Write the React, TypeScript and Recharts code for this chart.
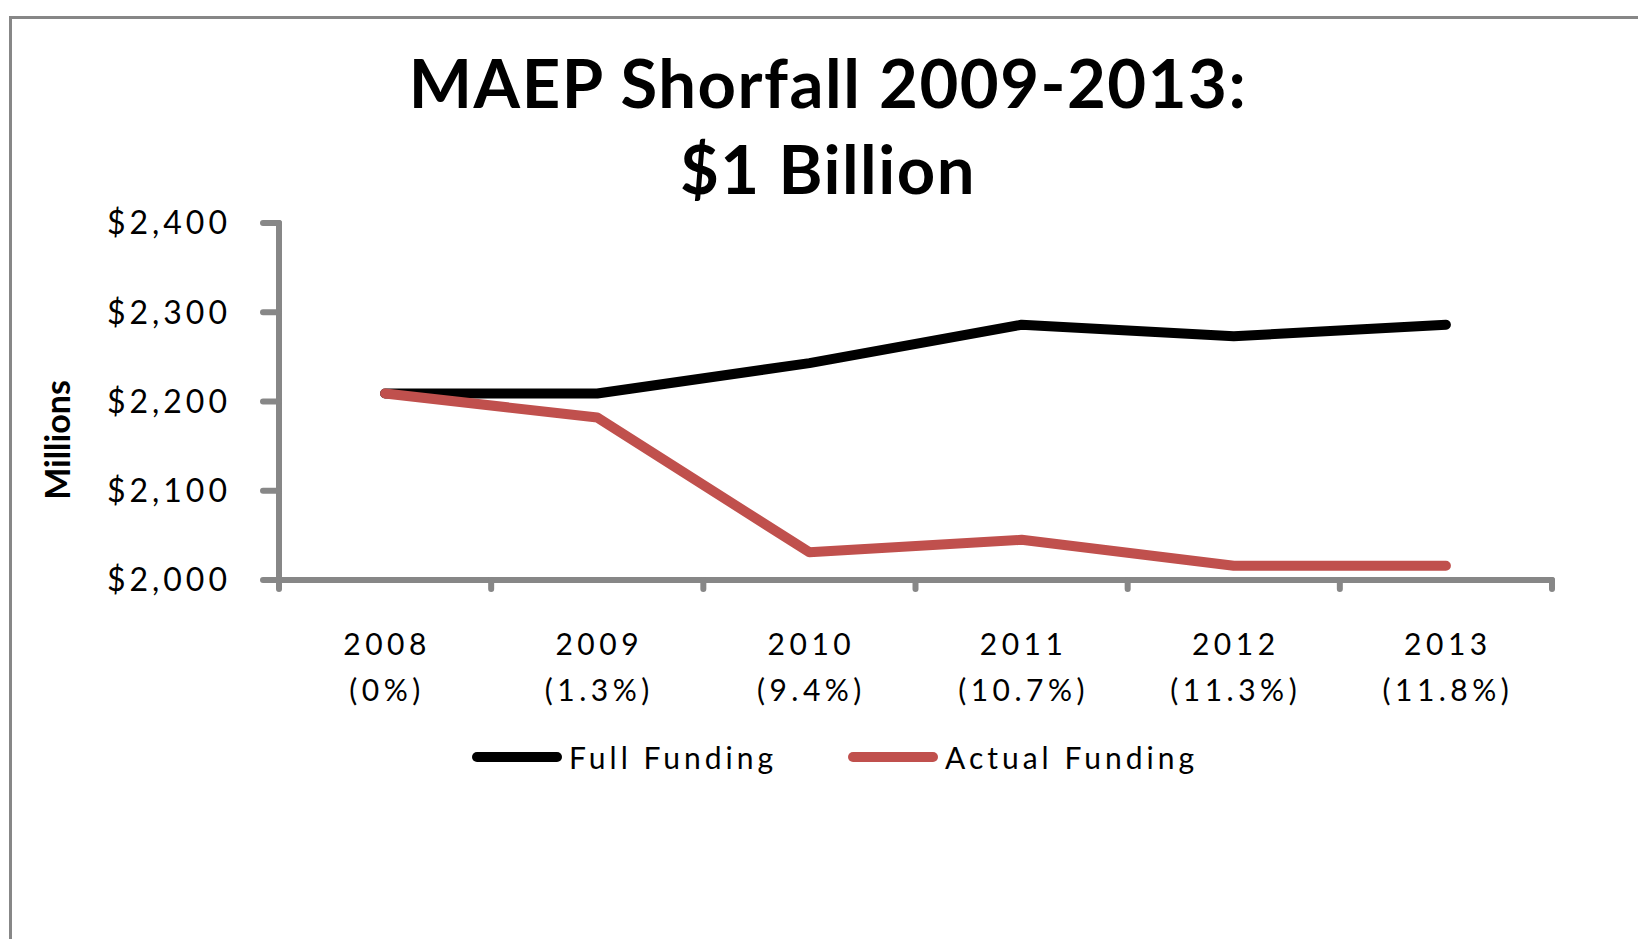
import React from 'react';
import { LineChart, Line, XAxis, YAxis } from 'recharts';

const years = ['2008', '2009', '2010', '2011', '2012', '2013'];
const shortfallPct = ['(0%)', '(1.3%)', '(9.4%)', '(10.7%)', '(11.3%)', '(11.8%)'];
const fullFunding = [2209, 2209, 2243, 2286, 2273, 2286];
const actualFunding = [2209, 2182, 2031, 2045, 2016, 2016];
const yTicks = [2000, 2100, 2200, 2300, 2400];

const data = years.map((year, i) => ({
  year,
  slot: i,
  pct: shortfallPct[i],
  full: fullFunding[i],
  actual: actualFunding[i],
}));
const edgeTicks = years.map((_, i) => i).concat(years.length);

const FONT = 'Lato, "Open Sans", sans-serif';
const GRAY = '#878787';
const RED = '#C0504D';

const CHART_W = 1638;
const MARGIN = { top: 223, right: 86, bottom: 209, left: 0 };
const Y_AXIS_W = 279;
const HALF_BAND = (CHART_W - MARGIN.right - MARGIN.left - Y_AXIS_W) / years.length / 2;

// labels sit between the boundary ticks of the frame axis
const EdgeTick = (props: any) => {
  const { x, y, payload } = props;
  const i = Math.round(payload.value);
  if (i < 0 || i >= years.length) return <g />;
  const cx = x + HALF_BAND + 2;
  return (
    <g>
      <text textAnchor="middle" fontFamily={FONT} fontSize={30} letterSpacing={4.5} fill="#000">
        <tspan x={cx} y={y + 66}>{years[i]}</tspan>
        <tspan x={cx} y={y + 112}>{shortfallPct[i]}</tspan>
      </text>
    </g>
  );
};

const YLabel = () => (
  <text
    x={56}
    y={440}
    transform="rotate(-90 56 440)"
    textAnchor="middle"
    dominantBaseline="central"
    fontFamily={FONT}
    fontWeight={700}
    fontSize={34}
    fill="#000"
  >
    Millions
  </text>
);

const LegendItem = ({ color, label, left }: { color: string; label: string; left: number }) => (
  <div style={{ position: 'absolute', left, top: 737, height: 40, display: 'flex', alignItems: 'center' }}>
    <svg width={90} height={12} style={{ marginRight: 7 }}>
      <line x1={5} y1={6} x2={85} y2={6} stroke={color} strokeWidth={10} strokeLinecap="round" />
    </svg>
    <span style={{ fontFamily: FONT, fontSize: 30, letterSpacing: 4, color: '#000' }}>{label}</span>
  </div>
);

const axisCss = `
.recharts-cartesian-axis-line, .recharts-cartesian-axis-tick-line {
  stroke: ${GRAY} !important;
  stroke-width: 6px !important;
  stroke-linecap: round;
}
`;

export default function App() {
  return (
    <div
      style={{
        position: 'absolute',
        left: 0,
        top: 0,
        width: 1638,
        height: 939,
        overflow: 'hidden',
        background: '#fff',
      }}
    >
      <style>{axisCss}</style>
      <div
        style={{
          position: 'absolute',
          left: 9,
          top: 16,
          width: 2000,
          height: 2000,
          borderLeft: `3px solid ${GRAY}`,
          borderTop: `3px solid ${GRAY}`,
        }}
      />
      <div
        style={{
          position: 'absolute',
          left: 0,
          top: 39,
          width: 1656,
          textAlign: 'center',
          fontFamily: FONT,
          fontWeight: 700,
          fontSize: 67,
          lineHeight: '86px',
          letterSpacing: 1.5,
          color: '#000',
        }}
      >
        MAEP Shorfall 2009-2013:
        <br />
        $1 Billion
      </div>
      <div style={{ position: 'absolute', left: 0, top: 0 }}>
        <LineChart width={CHART_W} height={939} data={data} margin={MARGIN}>
          <XAxis xAxisId="cat" dataKey="year" padding={{ left: HALF_BAND, right: HALF_BAND }} height={0} hide />
          <XAxis
            xAxisId="edges"
            dataKey="slot"
            type="number"
            domain={[0, 'dataMax + 1']}
            ticks={edgeTicks}
            interval={0}
            tick={<EdgeTick />}
            tickSize={9}
            tickMargin={0}
            height={150}
            stroke={GRAY}
            strokeWidth={6}
            axisLine={{ stroke: GRAY, strokeWidth: 6 }}
            tickLine={{ stroke: GRAY, strokeWidth: 6 }}
          />
          <YAxis
            width={Y_AXIS_W}
            domain={[2000, 2400]}
            ticks={yTicks}
            interval={0}
            tickFormatter={(v: number) => `$${v.toLocaleString('en-US')}`}
            tickSize={16}
            tickMargin={32}
            stroke={GRAY}
            strokeWidth={6}
            axisLine={{ stroke: GRAY, strokeWidth: 6 }}
            tickLine={{ stroke: GRAY, strokeWidth: 6 }}
            tick={{ fontFamily: FONT, fontSize: 32, letterSpacing: 4, fill: '#000', stroke: 'none' }}
            label={<YLabel />}
          />
          <Line
            xAxisId="cat"
            type="linear"
            dataKey="full"
            name="Full Funding"
            stroke="#000"
            strokeWidth={10}
            strokeLinecap="round"
            strokeLinejoin="round"
            dot={false}
            activeDot={false}
            isAnimationActive={false}
          />
          <Line
            xAxisId="cat"
            type="linear"
            dataKey="actual"
            name="Actual Funding"
            stroke={RED}
            strokeWidth={10}
            strokeLinecap="round"
            strokeLinejoin="round"
            dot={false}
            activeDot={false}
            isAnimationActive={false}
          />
        </LineChart>
      </div>
      <LegendItem color="#000" label="Full Funding" left={472} />
      <LegendItem color={RED} label="Actual Funding" left={848} />
    </div>
  );
}
